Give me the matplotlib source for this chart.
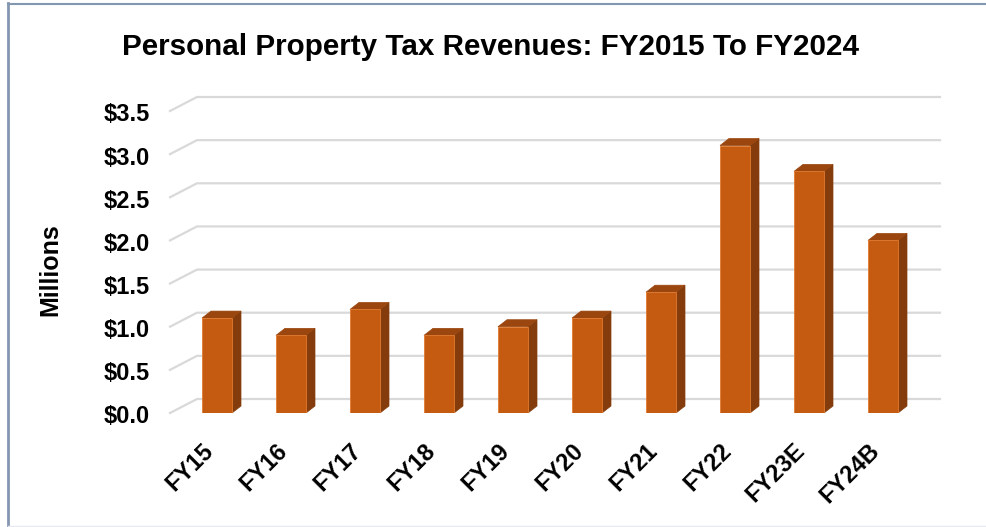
import matplotlib.pyplot as plt
from matplotlib.patches import Polygon
from matplotlib.lines import Line2D

plt.rcParams['font.family'] = ['Liberation Sans', 'DejaVu Sans']

categories = ["FY15", "FY16", "FY17", "FY18", "FY19", "FY20", "FY21", "FY22", "FY23E", "FY24B"]
revenues = [1.1, 0.9, 1.2, 0.9, 1.0, 1.1, 1.4, 3.1, 2.8, 2.0]
ticks = [0.0, 0.5, 1.0, 1.5, 2.0, 2.5, 3.0, 3.5]
tick_labels = ["$%.1f" % t for t in ticks]

W, H = 986, 527
fig = plt.figure(figsize=(W / 100, H / 100), dpi=100)

# axes in pixel box: x 170..940, y 97..413
px_left, px_right, px_top, px_bot = 170, 940, 97, 413
ax = fig.add_axes([px_left / W, 1 - px_bot / H, (px_right - px_left) / W, (px_bot - px_top) / H])

px_per_cat = 74.0
px_per_unit = 86.3
x0 = 217  # pixel of first category
xmin = (px_left - x0) / px_per_cat
xmax = (px_right - x0) / px_per_cat
depth_dx = 27 / px_per_cat
depth_dy = 14 / px_per_unit
ymax = 3.5 + depth_dy
ax.set_xlim(xmin, xmax)
ax.set_ylim(0, ymax)
ax.axis("off")

grid_color = "#D9D9D9"
for t, lab in zip(ticks, tick_labels):
    ax.plot([xmin, xmin + depth_dx, xmax], [t, t + depth_dy, t + depth_dy],
            color=grid_color, lw=1.6, clip_on=False, zorder=1)
    ax.text(xmin - 20 / px_per_cat, t - 4 / px_per_unit, lab, ha="right", va="center",
            fontsize=17, fontweight="bold", clip_on=False)

front = "#C55A11"
side = "#843C0C"
top = "#9A460E"
hw = 15 / px_per_cat
bdx = 9 / px_per_cat
bdy = 7 / px_per_unit
for i, v in enumerate(revenues):
    l, r = i - hw, i + hw
    ax.add_patch(Polygon([(r, 0), (r + bdx, bdy), (r + bdx, v + bdy), (r, v)],
                         closed=True, facecolor=side, edgecolor=side, lw=0.5, zorder=3))
    ax.add_patch(Polygon([(l, v), (r, v), (r + bdx, v + bdy), (l + bdx, v + bdy)],
                         closed=True, facecolor=top, edgecolor=top, lw=0.5, zorder=3))
    ax.add_patch(Polygon([(l, 0), (r, 0), (r, v), (l, v)],
                         closed=True, facecolor=front, edgecolor="#E07A30", lw=0.6, zorder=4))
    ax.text(i + 0.01, -26 / px_per_unit, categories[i], rotation=45, ha="right", va="top",
            fontsize=17, fontweight="bold", clip_on=False)

fig.text(490 / W, 1 - 47 / H, "Personal Property Tax Revenues: FY2015 To FY2024",
         ha="center", va="center", fontsize=21.3, fontweight="bold")
fig.text(50 / W, 1 - 270 / H, "Millions", rotation=90, ha="center", va="center",
         fontsize=18, fontweight="bold")

# outer frame (top and left edge like the screenshot)
fig.add_artist(Line2D([8 / W, 1], [1 - 3.5 / H, 1 - 3.5 / H], color="#8497B0", lw=1.5))
fig.add_artist(Line2D([8 / W, 8 / W], [0, 1 - 3 / H], color="#8497B0", lw=2))
fig.add_artist(Line2D([8 / W, 1], [1.2 / H, 1.2 / H], color="#E8E8F0", lw=1))

fig.savefig("out.png", dpi=100)
